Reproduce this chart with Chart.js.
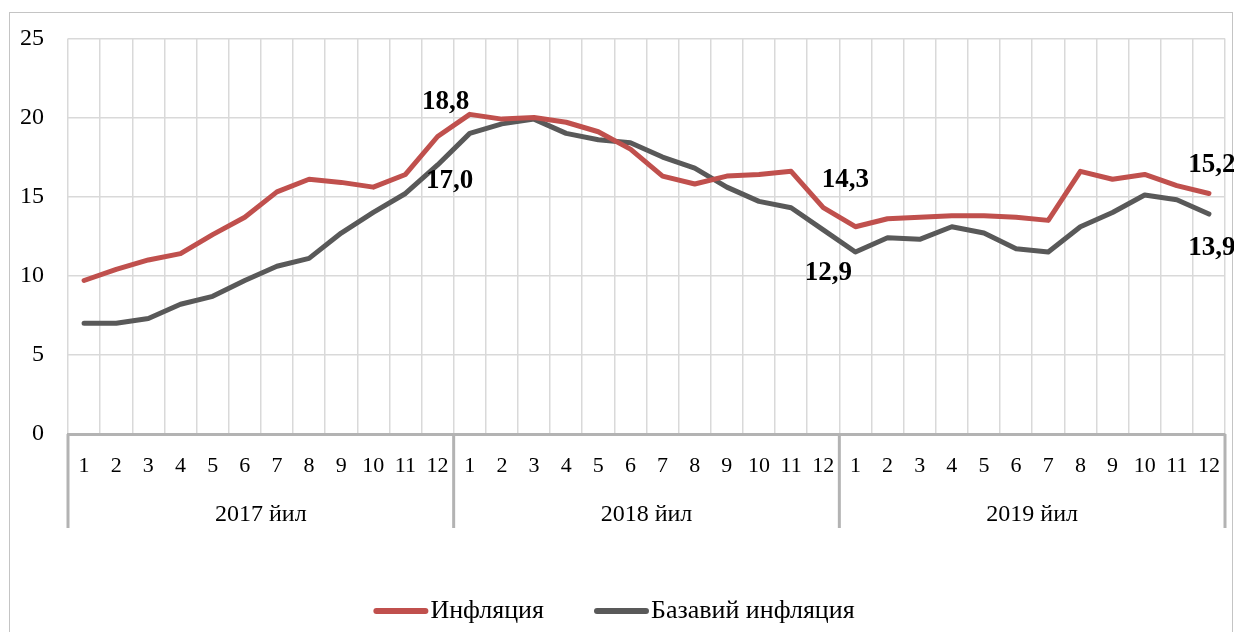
<!DOCTYPE html>
<html>
<head>
<meta charset="utf-8">
<script src="https://cdn.jsdelivr.net/npm/chart.js@4"></script>
<style>
  html, body { margin: 0; background: #fff; overflow: hidden; }
  #frame { position: absolute; left: 9px; top: 12px; width: 1222px; height: 640px; border: 1.5px solid #c4c4c4; border-bottom: none; }
  #wrap { position: absolute; left: 0; top: 0; width: 1234px; height: 632px; }
</style>
</head>
<body>
<div id="frame"></div>
<div id="wrap"><canvas id="chart"></canvas></div>
<script>
const months = ["1","2","3","4","5","6","7","8","9","10","11","12"];
const years = ["2017 йил", "2018 йил", "2019 йил"];
const labels = years.flatMap(() => months);

const inflation = [9.7, 10.4, 11.0, 11.4, 12.6, 13.7, 15.3, 16.1, 15.9, 15.6, 16.4, 18.8,
  20.2, 19.9, 20.0, 19.7, 19.1, 18.0, 16.3, 15.8, 16.3, 16.4, 16.6, 14.3,
  13.1, 13.6, 13.7, 13.8, 13.8, 13.7, 13.5, 16.6, 16.1, 16.4, 15.7, 15.2];
const baseInflation = [7.0, 7.0, 7.3, 8.2, 8.7, 9.7, 10.6, 11.1, 12.7, 14.0, 15.2, 17.0,
  19.0, 19.6, 19.9, 19.0, 18.6, 18.4, 17.5, 16.8, 15.6, 14.7, 14.3, 12.9,
  11.5, 12.4, 12.3, 13.1, 12.7, 11.7, 11.5, 13.1, 14.0, 15.1, 14.8, 13.9];

// which points get a value label, and where the label sits relative to the point
const callouts = [
  { ds: 0, i: 11, dx: 8, dy: -34 },
  { ds: 1, i: 11, dx: 12, dy: 16 },
  { ds: 0, i: 23, dx: 22, dy: -28 },
  { ds: 1, i: 23, dx: 5, dy: 43 },
  { ds: 0, i: 35, dx: 3, dy: -28 },
  { ds: 1, i: 35, dx: 3, dy: 34 }
];

const serif = "'Liberation Serif', 'Times New Roman', serif";

const groupAxis = {
  id: "groupAxis",
  afterDraw(chart) {
    const ctx = chart.ctx;
    const x = chart.scales.x;
    const top = chart.chartArea.bottom;
    ctx.save();
    ctx.strokeStyle = "#b3b3b3";
    ctx.lineWidth = 3;
    for (let g = 0; g <= years.length; g++) {
      const px = x.getPixelForValue(g * 12 - 0.5);
      ctx.beginPath();
      ctx.moveTo(px, top);
      ctx.lineTo(px, top + 94);
      ctx.stroke();
    }
    ctx.fillStyle = "#000";
    ctx.font = "24px " + serif;
    ctx.textAlign = "center";
    ctx.textBaseline = "middle";
    years.forEach((y, g) => {
      const a = x.getPixelForValue(g * 12 - 0.5);
      const b = x.getPixelForValue(g * 12 + 11.5);
      ctx.fillText(y, (a + b) / 2, top + 81);
    });

    ctx.font = "bold 27px " + serif;
    callouts.forEach(c => {
      const pt = chart.getDatasetMeta(c.ds).data[c.i];
      const v = chart.data.datasets[c.ds].data[c.i];
      ctx.fillText(v.toFixed(1).replace(".", ","), pt.x + c.dx, pt.y + c.dy);
    });

    // legend: short line sample right before the text, items 50px apart
    ctx.font = "26px " + serif;
    ctx.textAlign = "left";
    const sets = chart.data.datasets;
    const widths = sets.map(d => 57 + ctx.measureText(d.label).width);
    const total = widths.reduce((a, b) => a + b, 0) + 50 * (sets.length - 1);
    let lx = chart.width / 2 - 3 - total / 2;
    const ly = 611;
    ctx.lineCap = "round";
    ctx.lineWidth = 6;
    sets.forEach((d, k) => {
      ctx.strokeStyle = d.borderColor;
      ctx.beginPath();
      ctx.moveTo(lx + 3, ly);
      ctx.lineTo(lx + 52, ly);
      ctx.stroke();
      ctx.fillStyle = "#000";
      ctx.fillText(d.label, lx + 57, ly);
      lx += widths[k] + 50;
    });
    ctx.restore();
  }
};

new Chart(document.getElementById("chart"), {
  type: "line",
  data: {
    labels,
    datasets: [{
      label: "Инфляция",
      data: inflation,
      borderColor: "#c0504d",
      backgroundColor: "#c0504d"
    }, {
      label: "Базавий инфляция",
      data: baseInflation,
      borderColor: "#595959",
      backgroundColor: "#595959"
    }]
  },
  options: {
    responsive: true,
    maintainAspectRatio: false,
    animation: false,
    elements: {
      line: { borderWidth: 5, tension: 0, borderCapStyle: "round", borderJoinStyle: "round" },
      point: { radius: 0, hoverRadius: 0 }
    },
    layout: { padding: { left: 0, right: 9, top: 36, bottom: 104 } },
    scales: {
      x: {
        offset: true,
        grid: { offset: true, color: "#d9d9d9", lineWidth: 1.5, drawTicks: false },
        border: { color: "#b3b3b3", width: 3 },
        ticks: { color: "#000", font: { family: serif, size: 22 }, padding: 19, maxRotation: 0, autoSkip: false },
        afterFit(scale) {
          scale.height = 94;
          scale.paddingLeft = 0;
          scale.paddingRight = 0;
        }
      },
      y: {
        min: 0,
        max: 25,
        ticks: { stepSize: 5, color: "#000", font: { family: serif, size: 24 }, padding: 24 },
        grid: { color: "#d9d9d9", lineWidth: 1.5, drawTicks: false },
        border: { display: false },
        afterFit(scale) { scale.width = 68; }
      }
    },
    plugins: {
      legend: { display: false },
      tooltip: { enabled: false }
    }
  },
  plugins: [groupAxis]
});
</script>
</body>
</html>
